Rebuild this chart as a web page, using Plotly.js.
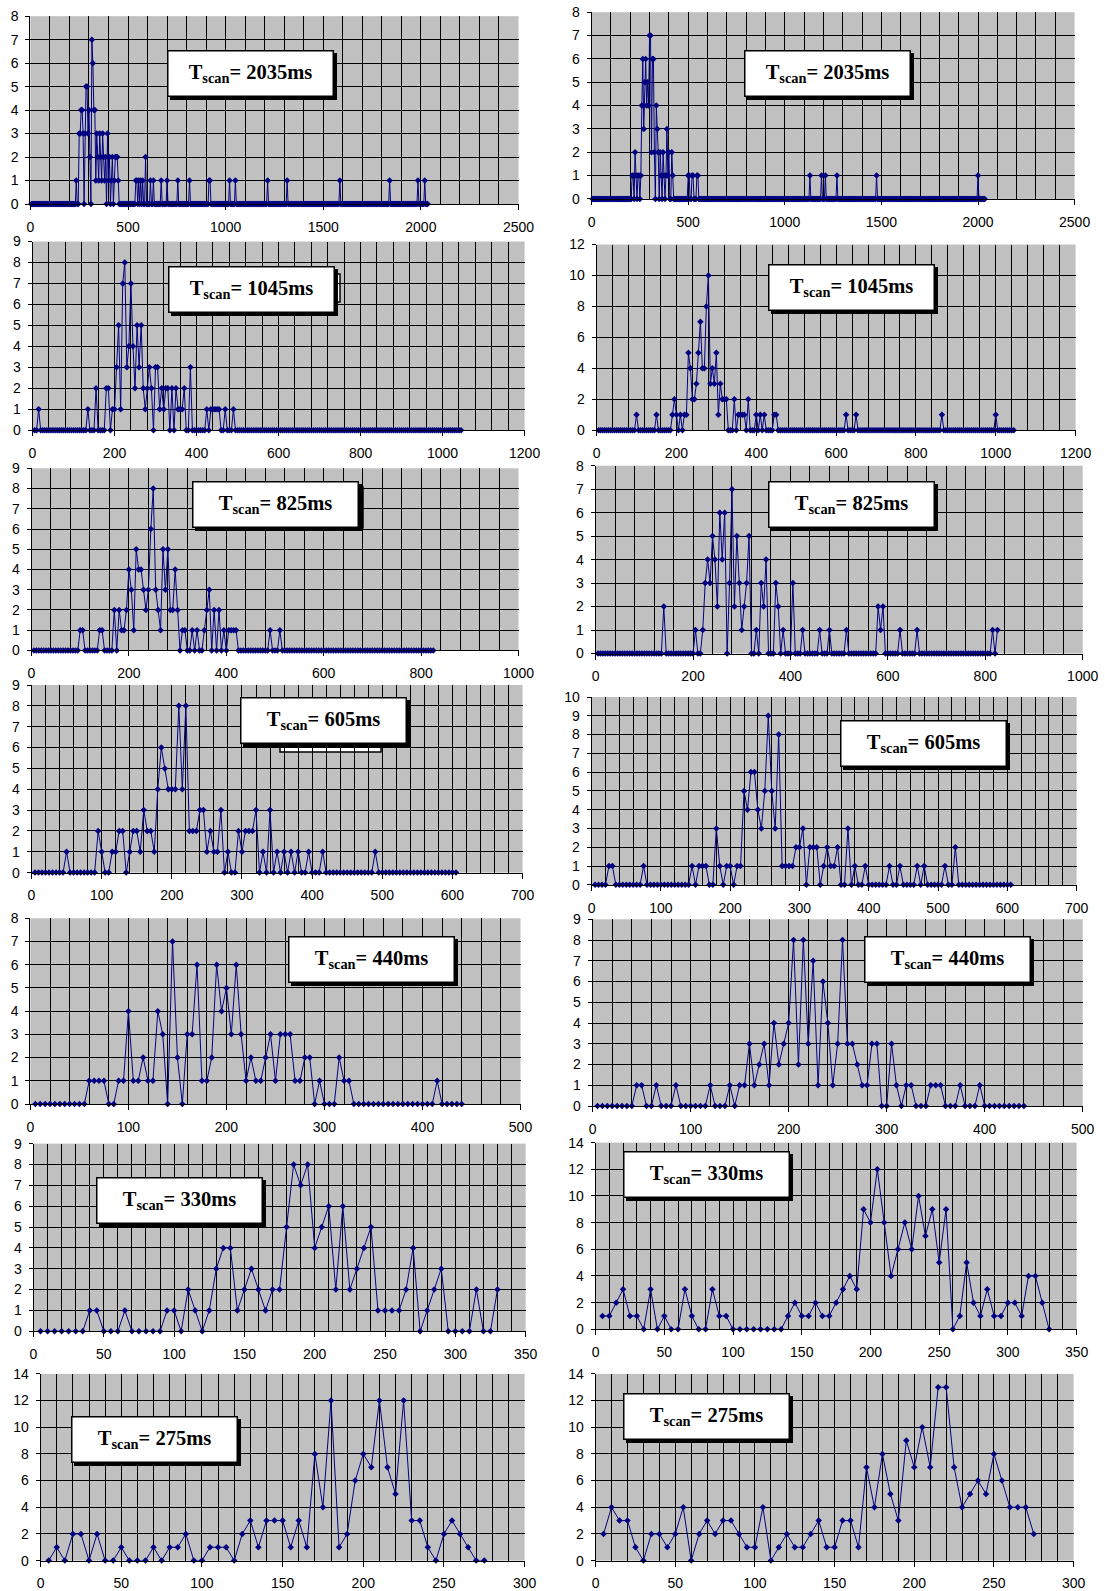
<!DOCTYPE html>
<html><head><meta charset="utf-8">
<script src="https://cdn.plot.ly/plotly-3.0.1.min.js"></script>
<style>html,body{margin:0;padding:0;background:#fff}#chart{width:1105px;height:1591px}</style>
</head><body><div id="chart"></div>
<script>
// ---------------- DATA (counts sampled every 5 ms) ----------------
const sampleStep = 5;
const scanLabels = ["2035","2035","1045","1045","825","825","605","605","440","440","330","330","275","275"];

const counts2035L = [
0,0,0,0,0,0,0,0,0,0,0,0,0,0,0,0,0,0,0,0,
0,0,0,0,0,0,0,0,0,0,0,0,0,0,0,0,0,0,0,0,
0,0,0,0,0,0,1,0,0,3,3,4,4,3,0,3,5,5,3,4,
2,0,7,6,4,4,1,3,2,1,3,2,1,3,2,1,2,0,3,1,
2,0,1,2,0,1,2,2,2,1,0,0,0,0,0,0,0,0,0,0,
0,0,0,0,0,0,0,1,1,0,1,0,1,0,1,0,0,2,0,0,
0,0,1,0,0,1,0,0,0,0,0,0,0,1,0,0,0,0,0,1,
0,0,0,0,0,0,0,0,0,0,1,0,0,0,0,0,0,0,0,0,
0,0,1,0,0,0,0,0,0,0,0,0,0,0,0,0,0,0,0,0,
0,0,1,1,0,0,0,0,0,0,0,0,0,0,0,0,0,0,0,0,
0,0,0,1,0,0,0,0,0,1,0,0,0,0,0,0,0,0,0,0,
0,0,0,0,0,0,0,0,0,0,0,0,0,0,0,0,0,0,0,0,
0,0,1,0,0,0,0,0,0,0,0,0,0,0,0,0,0,0,0,0,
0,0,1,0,0,0,0,0,0,0,0,0,0,0,0,0,0,0,0,0,
0,0,0,0,0,0,0,0,0,0,0,0,0,0,0,0,0,0,0,0,
0,0,0,0,0,0,0,0,0,0,0,0,0,0,0,0,1,0,0,0,
0,0,0,0,0,0,0,0,0,0,0,0,0,0,0,0,0,0,0,0,
0,0,0,0,0,0,0,0,0,0,0,0,0,0,0,0,0,0,0,0,
0,0,0,0,0,0,0,1,0,0,0,0,0,0,0,0,0,0,0,0,
0,0,0,0,0,0,0,0,0,0,0,0,0,0,0,0,1,0,0,0,
0,0,0,1,0,0,0];

const counts2035R = [
0,0,0,0,0,0,0,0,0,0,0,0,0,0,0,0,0,0,0,0,
0,0,0,0,0,0,0,0,0,0,0,0,0,0,0,0,0,0,0,0,
0,1,1,0,2,1,0,1,1,0,1,4,6,3,5,6,4,5,4,7,
7,2,6,6,2,0,4,3,2,0,2,1,0,2,1,0,1,3,1,2,
0,0,2,1,0,0,0,0,0,0,0,0,0,0,0,0,0,0,0,1,
1,0,0,1,1,0,0,0,1,1,0,0,0,0,0,0,0,0,0,0,
0,0,0,0,0,0,0,0,0,0,0,0,0,0,0,0,0,0,0,0,
0,0,0,0,0,0,0,0,0,0,0,0,0,0,0,0,0,0,0,0,
0,0,0,0,0,0,0,0,0,0,0,0,0,0,0,0,0,0,0,0,
0,0,0,0,0,0,0,0,0,0,0,0,0,0,0,0,0,0,0,0,
0,0,0,0,0,0,0,0,0,0,0,0,0,0,0,0,0,0,0,0,
0,0,0,0,0,1,0,0,0,0,0,0,0,0,0,0,0,1,0,0,
0,1,0,0,0,0,0,0,0,0,0,0,0,1,0,0,0,0,0,0,
0,0,0,0,0,0,0,0,0,0,0,0,0,0,0,0,0,0,0,0,
0,0,0,0,0,0,0,0,0,0,0,0,0,0,1,0,0,0,0,0,
0,0,0,0,0,0,0,0,0,0,0,0,0,0,0,0,0,0,0,0,
0,0,0,0,0,0,0,0,0,0,0,0,0,0,0,0,0,0,0,0,
0,0,0,0,0,0,0,0,0,0,0,0,0,0,0,0,0,0,0,0,
0,0,0,0,0,0,0,0,0,0,0,0,0,0,0,0,0,0,0,0,
0,0,0,0,0,0,0,0,0,0,0,0,0,0,0,0,0,0,0,1,
0,0,0,0,0,0,0];

const counts1045L = [
0,0,1,0,0,0,0,0,0,0,0,0,0,0,0,0,0,0,0,0,
0,0,0,0,0,0,1,0,0,0,2,0,0,0,0,2,2,0,1,1,
3,5,1,7,8,3,4,7,4,2,5,3,5,2,1,2,3,2,0,3,
3,1,2,1,2,2,0,2,0,2,1,1,1,2,0,0,3,0,0,0,
0,0,0,0,1,0,1,1,1,1,1,0,0,1,0,0,0,1,0,0,
0,0,0,0,0,0,0,0,0,0,0,0,0,0,0,0,0,0,0,0,
0,0,0,0,0,0,0,0,0,0,0,0,0,0,0,0,0,0,0,0,
0,0,0,0,0,0,0,0,0,0,0,0,0,0,0,0,0,0,0,0,
0,0,0,0,0,0,0,0,0,0,0,0,0,0,0,0,0,0,0,0,
0,0,0,0,0,0,0,0,0,0,0,0,0,0,0,0,0,0,0,0,
0,0,0,0,0,0,0,0,0];

const counts1045R = [
0,0,0,0,0,0,0,0,0,0,0,0,0,0,0,0,0,0,0,1,
0,0,0,0,0,0,0,0,0,1,0,0,0,0,0,0,0,1,2,1,
0,1,0,1,1,5,4,2,2,3,5,7,4,4,8,10,3,4,3,5,
1,3,2,2,2,0,0,0,2,0,1,1,1,1,0,2,0,0,0,1,
0,1,0,1,0,0,0,0,1,1,0,0,0,0,0,0,0,0,0,0,
0,0,0,0,0,0,0,0,0,0,0,0,0,0,0,0,0,0,0,0,
0,0,0,0,1,0,0,0,0,1,0,0,0,0,0,0,0,0,0,0,
0,0,0,0,0,0,0,0,0,0,0,0,0,0,0,0,0,0,0,0,
0,0,0,0,0,0,0,0,0,0,0,0,1,0,0,0,0,0,0,0,
0,0,0,0,0,0,0,0,0,0,0,0,0,0,0,0,0,0,0,1,
0,0,0,0,0,0,0,0,0];

const counts825L = [
0,0,0,0,0,0,0,0,0,0,0,0,0,0,0,0,0,0,0,1,
1,0,0,0,0,0,0,1,1,0,0,0,0,2,0,2,1,1,2,4,
3,1,5,4,4,3,2,3,6,8,3,2,1,5,3,5,2,2,4,2,
0,1,1,0,0,1,0,1,0,0,1,2,3,0,2,0,2,0,1,0,
1,1,1,1,0,0,0,0,0,0,0,0,0,0,0,0,0,1,0,0,
0,1,0,0,0,0,0,0,0,0,0,0,0,0,0,0,0,0,0,0,
0,0,0,0,0,0,0,0,0,0,0,0,0,0,0,0,0,0,0,0,
0,0,0,0,0,0,0,0,0,0,0,0,0,0,0,0,0,0,0,0,
0,0,0,0,0];

const counts825R = [
0,0,0,0,0,0,0,0,0,0,0,0,0,0,0,0,0,0,0,0,
0,0,0,0,0,0,0,2,0,0,0,0,0,0,0,0,0,0,0,0,
1,0,0,1,3,4,3,5,4,2,6,4,6,0,3,7,2,5,3,1,
2,3,5,0,0,1,0,3,2,4,0,0,0,3,2,0,1,0,0,0,
3,0,0,0,1,0,0,0,0,0,0,1,0,0,0,1,0,0,0,0,
0,0,1,0,0,0,0,0,0,0,0,0,0,0,0,2,1,2,0,0,
0,0,0,0,1,0,0,0,0,0,0,1,0,0,0,0,0,0,0,0,
0,0,0,0,0,0,0,0,0,0,0,0,0,0,0,0,0,0,0,0,
0,0,1,0,1];

const counts605L = [
0,0,0,0,0,0,0,0,0,1,0,0,0,0,0,0,0,0,2,1,
0,0,1,1,2,2,0,1,2,2,1,3,2,2,1,4,6,5,4,4,
4,8,4,8,2,2,2,3,3,1,2,1,1,3,0,1,0,0,2,1,
2,2,2,3,0,1,0,3,0,1,0,1,0,1,0,1,0,0,1,0,
0,0,1,0,0,0,0,0,0,0,0,0,0,0,0,0,0,1,0,0,
0,0,0,0,0,0,0,0,0,0,0,0,0,0,0,0,0,0,0,0,
0];

const counts605R = [
0,0,0,0,1,1,0,0,0,0,0,0,0,0,1,0,0,0,0,0,
0,0,0,0,0,0,0,0,1,0,1,1,1,0,0,3,1,0,1,1,
0,1,1,5,4,6,6,4,3,5,9,5,3,8,1,1,1,1,2,2,
3,0,2,2,2,0,1,2,1,1,2,0,0,3,0,1,0,0,1,0,
0,0,0,0,0,1,0,0,1,0,0,0,0,1,0,1,0,0,0,0,
0,1,0,0,2,0,0,0,0,0,0,0,0,0,0,0,0,0,0,0,
0];

const counts440L = [
0,0,0,0,0,0,0,0,0,0,0,1,1,1,1,0,0,1,1,4,
1,1,2,1,1,4,3,0,7,2,0,3,3,6,1,1,2,6,4,5,
3,6,3,1,2,1,1,2,3,1,3,3,3,1,1,2,2,0,1,0,
0,0,2,1,1,0,0,0,0,0,0,0,0,0,0,0,0,0,0,0,
0,0,1,0,0,0,0,0];

const counts440R = [
0,0,0,0,0,0,0,0,1,1,0,0,1,0,0,0,1,0,0,0,
0,0,0,1,0,0,0,1,0,1,1,3,1,2,3,1,4,2,3,4,
8,2,8,3,7,1,6,4,1,3,8,3,3,2,1,1,3,3,0,0,
3,1,0,1,1,0,0,0,1,1,1,0,0,0,1,0,0,0,1,0,
0,0,0,0,0,0,0,0];

const counts330L = [
0,0,0,0,0,0,0,1,1,0,0,0,1,0,0,0,0,0,1,1,
0,2,1,0,1,3,4,4,1,2,3,2,1,2,2,5,8,7,8,4,
5,6,2,6,2,3,4,5,1,1,1,1,2,4,0,1,2,3,0,0,
0,0,2,0,0,2];

const counts330R = [
1,1,2,3,1,1,0,3,0,1,0,0,3,1,0,0,3,1,1,0,
0,0,0,0,0,0,0,1,2,1,1,2,1,1,2,3,4,3,9,8,
12,8,4,6,8,6,10,7,9,5,9,0,1,5,2,1,3,1,1,2,
2,1,4,4,2,0];

const counts275L = [
0,1,0,2,2,0,2,0,0,1,0,0,0,1,0,1,1,2,0,0,
1,1,1,0,2,3,1,3,3,3,1,3,1,8,4,12,1,2,6,8,
7,12,7,5,12,3,3,1,0,2,3,2,1,0,0];

const counts275R = [
2,4,3,3,1,0,2,2,1,2,4,0,2,3,2,3,3,2,1,1,
4,0,1,2,1,1,2,3,1,1,3,3,1,7,4,8,5,3,9,7,
10,7,13,13,7,4,5,6,5,8,6,4,4,4,2];

const panelCounts = [counts2035L,counts2035R,counts1045L,counts1045R,counts825L,counts825R,
  counts605L,counts605R,counts440L,counts440R,counts330L,counts330R,counts275L,counts275R];

// axis scales
const xMax   = [2500,2500,1200,1200,1000,1000,700,700,500,500,350,350,300,300];
const xMajor = [500,500,200,200,200,200,100,100,100,100,50,50,50,50];
const xMinor = [100,100,40,40,40,40,20,20,20,20,10,10,10,10];
const yMax   = [8,8,9,12,9,8,9,10,8,9,9,14,14,14];
const yStep  = [1,1,1,2,1,1,1,1,1,1,1,2,2,2];

// ---------------- LAYOUT (pixel boxes of plot areas) ----------------
const W = 1105, H = 1591;
// [left, right, top, bottom] in px
const boxes = [
 [30.4,518.5,16.2,204],[591.6,1074.6,12.2,198.9],
 [32.5,524.6,241.5,430.2],[596.6,1075.6,244.5,430.2],
 [31.5,518.5,468.3,650.4],[595.6,1082.7,465.7,653.5],
 [31.5,522.6,685,872.6],[591.6,1076.6,697,884.8],
 [30.4,520.5,918.3,1104],[592.6,1082.7,919.3,1106],
 [33.5,525.6,1143.6,1331.3],[595.6,1076.6,1142.6,1329.3],
 [40.6,524.6,1373.9,1560.6],[595.6,1073.6,1373.9,1560.6]
];
// label box centres in px
const labelPos = [
 [250.5,74],[827,73.5],[251,289.5],[851,287.5],[275,504.5],[851,504],
 [323,720],[923.5,743],[371.5,959],[947,959],[179.5,1200.5],[706,1174.5],
 [154.5,1439],[706.5,1416.5]
];

const traces = [];
const layout = {
  width: W, height: H, margin: {l:0,r:0,t:0,b:0},
  paper_bgcolor: '#ffffff', plot_bgcolor: '#c0c0c0',
  showlegend: false, annotations: [], shapes: []
};
const tickFont = {family: 'Liberation Sans, Arial, sans-serif', size: 14, color: '#000'};

panelCounts.forEach((vals, i) => {
  const n = i + 1;
  const xs = vals.map((v, k) => (k + 1) * sampleStep);
  traces.push({
    type: 'scatter', mode: 'lines+markers', x: xs, y: vals,
    xaxis: 'x' + n, yaxis: 'y' + n, cliponaxis: false,
    line: {color: '#000080', width: 1},
    marker: {symbol: 'diamond', size: 5, color: '#000080'}
  });
  const b = boxes[i];
  layout['xaxis' + n] = {
    domain: [b[0] / W, b[1] / W], anchor: 'y' + n,
    range: [0, xMax[i]], tick0: 0, dtick: xMajor[i],
    showgrid: true, gridcolor: '#000', gridwidth: 1,
    minor: {dtick: xMinor[i], tick0: 0, showgrid: true, gridcolor: '#000', gridwidth: 1},
    showline: true, linecolor: '#000', linewidth: 1,
    ticks: 'outside', ticklen: 5, tickcolor: '#000', ticklabelstandoff: 5,
    zeroline: false, tickfont: tickFont, fixedrange: true
  };
  layout['yaxis' + n] = {
    domain: [1 - b[3] / H, 1 - b[2] / H], anchor: 'x' + n,
    range: [0, yMax[i]], tick0: 0, dtick: yStep[i],
    showgrid: true, gridcolor: '#000', gridwidth: 1,
    showline: true, linecolor: '#000', linewidth: 1,
    ticks: 'outside', ticklen: 4, tickcolor: '#000', ticklabelstandoff: 4,
    zeroline: false, tickfont: tickFont, fixedrange: true
  };
  const p = labelPos[i];
  const txt = '<b>T<sub>scan</sub>= ' + scanLabels[i] + 'ms</b>';
  const common = {
    xref: 'paper', yref: 'paper', x: p[0] / W, y: 1 - p[1] / H,
    xanchor: 'center', yanchor: 'middle', showarrow: false,
    width: 160, height: 40, borderpad: 2, borderwidth: 1.5,
    font: {family: 'Liberation Serif, Times New Roman, serif', size: 20.5, color: '#000'}
  };
  layout.annotations.push(Object.assign({}, common, {text: txt, bgcolor: '#000', bordercolor: '#000', xshift: 3, yshift: -3}));
  layout.annotations.push(Object.assign({}, common, {text: txt, bgcolor: '#fff', bordercolor: '#000'}));
});

// stray box fragments seen behind some labels in the original
function pxRect(x0, x1, y0, y1, fill) {
  layout.shapes.push({type: 'rect', xref: 'paper', yref: 'paper', layer: 'below',
    x0: x0 / W, x1: x1 / W, y0: 1 - y1 / H, y1: 1 - y0 / H,
    fillcolor: fill, line: {color: '#000', width: 1.5}});
}
pxRect(333, 340, 274, 302, '#fff');
pxRect(356, 363, 487, 528, '#fff');
pxRect(280, 381, 742, 752, '#fff');
pxRect(827, 934, 525, 530, '#000');

Plotly.newPlot('chart', traces, layout, {staticPlot: true});
</script></body></html>
